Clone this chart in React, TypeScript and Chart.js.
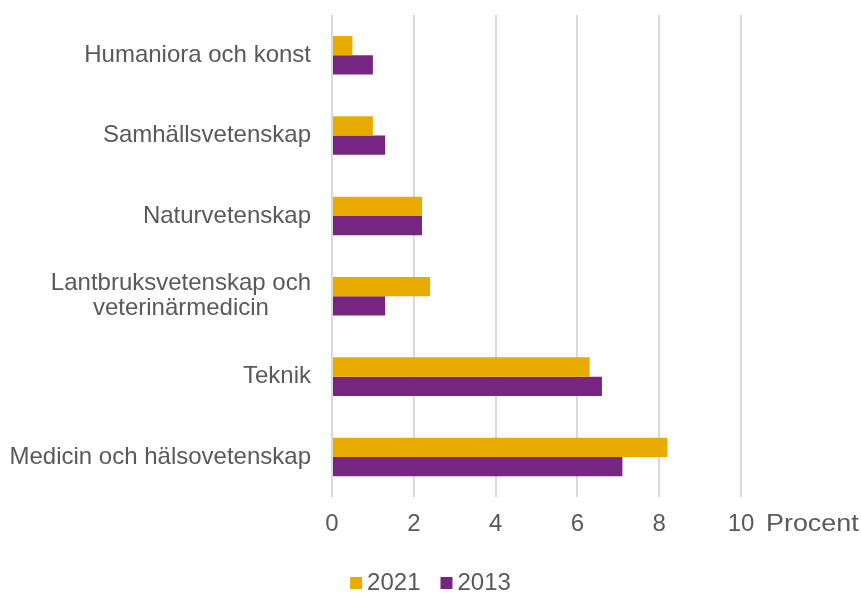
import React, { useEffect, useRef } from "react";
import { Chart, registerables } from "chart.js";

Chart.register(...registerables);

const categories: string[][] = [
  ["Humaniora och konst"],
  ["Samhällsvetenskap"],
  ["Naturvetenskap"],
  ["Lantbruksvetenskap och", "veterinärmedicin"],
  ["Teknik"],
  ["Medicin och hälsovetenskap"],
];
const seriesNames = ["2021", "2013"];
const values2021 = [0.5, 1.0, 2.2, 2.4, 6.3, 8.2];
const values2013 = [1.0, 1.3, 2.2, 1.3, 6.6, 7.1];
const seriesColors = ["#EAAB00", "#772583"];
const xMin = 0;
const xMax = 10;
const xStep = 2;
const axisUnit = "Procent";

const FONT = '"Liberation Sans", Arial, sans-serif';
const TEXT_COLOR = "#595959";
const FONT_SIZE = 24;
const TICK_PAD = 13;

const labelsPlugin = {
  id: "customLabels",
  afterDraw(chart: any) {
    const ctx = chart.ctx as CanvasRenderingContext2D;
    const yScale = chart.scales.y;
    const xScale = chart.scales.x;
    const area = chart.chartArea;
    ctx.save();
    ctx.font = `${FONT_SIZE}px ${FONT}`;
    ctx.fillStyle = TEXT_COLOR;
    ctx.textBaseline = "middle";
    // category labels
    const lineH = 25;
    categories.forEach((lines, i) => {
      const y = yScale.getPixelForValue(i);
      const widths = lines.map((l) => ctx.measureText(l).width);
      const w = Math.max(...widths);
      const right = area.left - 21;
      const cx = right - w / 2;
      ctx.textAlign = "center";
      lines.forEach((l, j) => {
        ctx.fillText(l, cx, y + (j - (lines.length - 1) / 2) * lineH);
      });
    });
    // unit label
    const ty = xScale.top + TICK_PAD + (FONT_SIZE * 1.2) / 2;
    ctx.save();
    ctx.textAlign = "left";
    ctx.translate(xScale.getPixelForValue(xMax) + 25, ty);
    ctx.scale(1.12, 1);
    ctx.fillText(axisUnit, 0, 0);
    ctx.restore();
    // legend
    const box = 12;
    const gap = 5;
    const itemGap = 20;
    const widths = seriesNames.map((n) => ctx.measureText(n).width);
    let total = 0;
    widths.forEach((w, i) => {
      total += box + gap + w + (i < widths.length - 1 ? itemGap : 0);
    });
    let x = chart.width / 2 - total / 2;
    const ly = 583;
    seriesNames.forEach((n, i) => {
      ctx.fillStyle = seriesColors[i];
      ctx.fillRect(x, ly - box / 2, box, box);
      x += box + gap;
      ctx.fillStyle = TEXT_COLOR;
      ctx.textAlign = "left";
      ctx.fillText(n, x, ly);
      x += widths[i] + itemGap;
    });
    ctx.restore();
  },
};

export default function App() {
  const ref = useRef<HTMLCanvasElement>(null);
  useEffect(() => {
    if (!ref.current) return;
    const chart = new Chart(ref.current, {
      type: "bar",
      data: {
        labels: categories.map((c) => c.join(" ")),
        datasets: [
          {
            label: seriesNames[0],
            data: values2021,
            backgroundColor: seriesColors[0],
            barPercentage: 1,
            categoryPercentage: 0.48,
          },
          {
            label: seriesNames[1],
            data: values2013,
            backgroundColor: seriesColors[1],
            barPercentage: 1,
            categoryPercentage: 0.48,
          },
        ],
      },
      options: {
        indexAxis: "y",
        responsive: false,
        animation: false,
        layout: { padding: { left: 332, right: 120, top: 15, bottom: 41 } },
        plugins: {
          legend: { display: false },
          tooltip: { enabled: false },
        },
        scales: {
          y: { display: false },
          x: {
            min: xMin,
            max: xMax,
            ticks: {
              stepSize: xStep,
              color: TEXT_COLOR,
              font: { family: FONT, size: FONT_SIZE },
              padding: TICK_PAD,
              maxRotation: 0,
            },
            grid: { color: "#d9d9d9", lineWidth: 2, drawTicks: false },
            border: { display: false },
          },
        },
      },
      plugins: [labelsPlugin],
    });
    return () => chart.destroy();
  }, []);
  return (
    <div style={{ position: "fixed", left: 0, top: 0, width: 861, height: 593, background: "#fff" }}>
      <canvas ref={ref} width={861} height={593} />
    </div>
  );
}
